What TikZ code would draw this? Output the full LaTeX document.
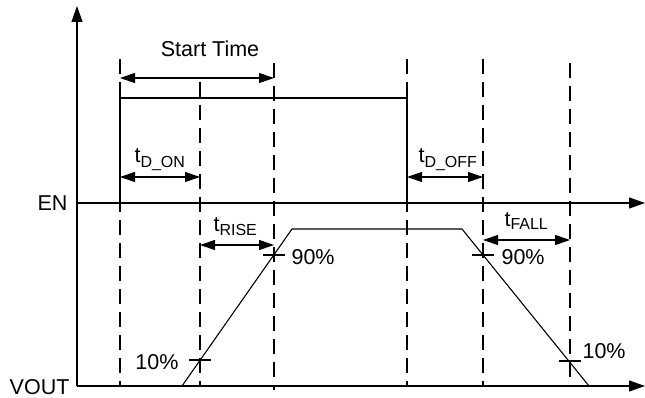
\documentclass[tikz,border=0pt]{standalone}
\usepackage{fontspec}
\setmainfont{Liberation Sans}
\usetikzlibrary{arrows.meta}
\newcommand{\subtxt}[1]{\textsubscript{\fontsize{16}{18}\selectfont #1}}
\begin{document}
\begin{tikzpicture}[x=1pt,y=-1pt,
  line width=1.1pt,
  tip/.style={-{Triangle[length=16pt,width=11pt]}},
  dimarrow/.style={{Triangle[length=15pt,width=10pt]}-{Triangle[length=15pt,width=10pt]}},
  guide/.style={line width=1.1pt,dash pattern=on 15pt off 8pt},
  lbl/.style={inner sep=0pt,font=\fontsize{21.5}{24}\selectfont}
]
\useasboundingbox (0,0) rectangle (645,398);
% axes
\coordinate (o) at (77,386);
\coordinate (ytop) at (77,6);
\coordinate (en0) at (77,203);
\coordinate (enend) at (645,203);
\coordinate (vend) at (645,386);
\draw[tip] (o) -- (ytop);
\draw[tip] (en0) -- (enend);
\draw[tip] (o) -- (vend);
% labels of axes
\node[lbl,anchor=east] (enl) at (68,203) {EN};
\node[lbl,anchor=east] (voutl) at (70,387) {VOUT};
% dashed guides
\draw[guide] (120,59) -- (120,386);
\draw[guide] (200,82) -- (200,386);
\draw[guide] (274,63) -- (274,390);
\draw[guide] (407,59) -- (407,386);
\draw[guide] (483,59) -- (483,386);
\draw[guide] (570,63) -- (570,386);
% EN pulse
\coordinate (e1) at (120,203);
\coordinate (e2) at (120,98);
\coordinate (e3) at (407,98);
\coordinate (e4) at (407,203);
\draw (e1) -- (e2) -- (e3) -- (e4);
% VOUT waveform
\coordinate (v1) at (182,386);
\coordinate (v2) at (292,229);
\coordinate (v3) at (462,229);
\coordinate (v4) at (589,386);
\draw (v1) -- (v2) -- (v3) -- (v4);
% ticks
\draw (189,360) -- (211,360);
\draw (263,255) -- (285,255);
\draw (472,255) -- (494,255);
\draw (559,361) -- (581,361);
\node[lbl,anchor=east] (p10a) at (179,362) {10\%};
\node[lbl,anchor=west] (p90a) at (291,257) {90\%};
\node[lbl,anchor=west] (p90b) at (501,257) {90\%};
\node[lbl,anchor=west] (p10b) at (582,351) {10\%};
% dimension arrows
\coordinate (st1) at (120,78);
\coordinate (st2) at (274,78);
\draw[dimarrow] (st1) -- (st2);
\node[lbl] (stl) at (210,49) {Start Time};
\coordinate (don1) at (120,177);
\coordinate (don2) at (200,177);
\draw[dimarrow] (don1) -- (don2);
\node[lbl,anchor=base west] (donl) at (134,163) {t\subtxt{D\_ON}};
\coordinate (doff1) at (407,177);
\coordinate (doff2) at (483,177);
\draw[dimarrow] (doff1) -- (doff2);
\node[lbl,anchor=base west] (doffl) at (418,163) {t\subtxt{D\_OFF}};
\coordinate (r1) at (200,245);
\coordinate (r2) at (274,245);
\draw[dimarrow] (r1) -- (r2);
\node[lbl,anchor=base west] (rl) at (213,231) {t\subtxt{RISE}};
\coordinate (f1) at (483,240);
\coordinate (f2) at (570,240);
\draw[dimarrow] (f1) -- (f2);
\node[lbl,anchor=base west] (fl) at (504,226) {t\subtxt{FALL}};
\end{tikzpicture}
\end{document}
